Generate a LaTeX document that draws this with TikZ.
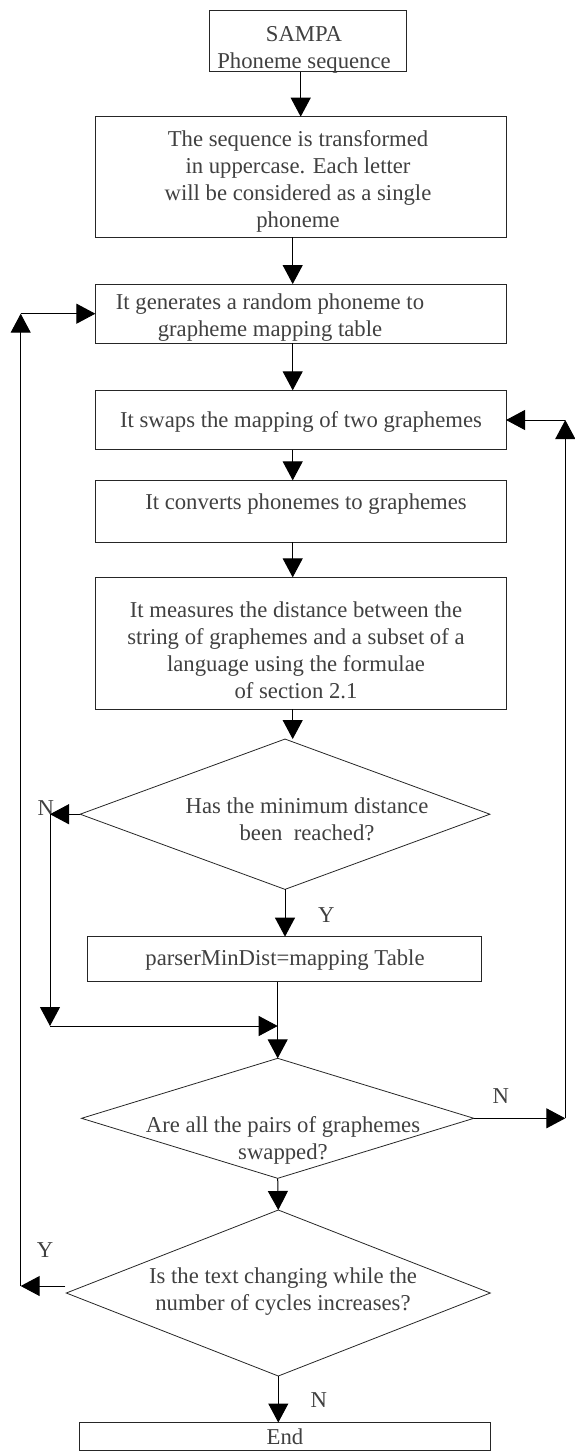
\documentclass[tikz,border=0pt]{standalone}
\usepackage{fontspec}
\setmainfont{Liberation Serif}
\usetikzlibrary{shapes.geometric,arrows.meta,calc}
\begin{document}
\begin{tikzpicture}[x=0.5pt,y=-0.5pt,
  font=\fontsize{11.35pt}{13.5pt}\selectfont,
  box/.style={draw=black!85, line width=0.5pt, inner sep=0pt, outer sep=0pt, minimum width=205.35pt},
  decision/.style={diamond, draw=black!85, line width=0.4pt, inner sep=0pt, outer sep=0pt},
  txt/.style={text=black!75, align=center, inner sep=0pt},
  lbl/.style={text=black!75, inner sep=0pt},
  flow/.style={line width=0.5pt, -{Triangle[length=9.5pt,width=10pt]}}]

\useasboundingbox (0,0) rectangle (574,1452);

% process boxes and decisions
\node[box, minimum width=98.5pt, minimum height=30.5pt] (sampa) at (307.5,41.2) {};
\node[box, minimum height=60.3pt]  (b2) at (300.7,177) {};
\node[box, minimum height=29.65pt] (b3) at (300.7,313.7) {};
\node[box, minimum height=29.7pt]  (b4) at (300.7,420) {};
\node[box, minimum height=30.85pt] (b5) at (300.7,511.2) {};
\node[box, minimum height=65.85pt] (b6) at (300.7,643.2) {};
\node[decision, minimum width=204.85pt, minimum height=75.15pt] (d1) at (285,814.2) {};
\node[box, minimum width=197pt, minimum height=22.65pt] (b7) at (284.3,959.3) {};
\node[decision, minimum width=196.15pt, minimum height=60pt] (d2) at (277.7,1118.3) {};
\node[decision, minimum width=212pt, minimum height=83pt] (d3) at (278.3,1293) {};
\node[box, minimum width=205.4pt, minimum height=13.75pt] (end) at (284.9,1436.25) {};

% branch labels
\node[lbl] (n1) at (45.8,808) {N};
\node[lbl] (y1) at (326.2,915.2) {Y};
\node[lbl] (n2) at (500.9,1096.3) {N};
\node[lbl] (y3) at (45,1250.2) {Y};
\node[lbl] (n3) at (318.7,1400.3) {N};

% box texts
\node[txt] (t1) at (304,50) {SAMPA\\Phoneme sequence};
\node[txt] (t2) at (298,181) {The sequence is transformed\\in uppercase. Each letter\\will be considered as a single\\phoneme};
\node[txt] (t3) at (270,318) {It generates a random phoneme to\\grapheme mapping table};
\node[txt] (t4) at (301,421.5) {It swaps the mapping of two graphemes};
\node[txt] (t5) at (306,504) {It converts phonemes to graphemes};
\node[txt] (t6) at (296,650) {It measures the distance between the\\string of graphemes and a subset of a\\language using the formulae\\of section 2.1};
\node[txt] (t7) at (307,819.5) {Has the minimum distance\\been~ reached?};
\node[txt] (t8) at (285,960) {parserMinDist=mapping Table};
\node[txt] (t9) at (283,1140) {Are all the pairs of graphemes\\swapped?};
\node[txt] (t10) at (283,1292) {Is the text changing while the\\number of cycles increases?};
\node[txt] (t11) at (285,1437) {End};

% routing points
\coordinate (a2) at ($(b2.south)+(-8,0)$);
\coordinate (a3) at ($(b3.south)+(-8,0)$);
\coordinate (a4) at ($(b4.south)+(-8,0)$);
\coordinate (a5) at ($(b5.south)+(-8,0)$);
\coordinate (a6) at ($(b6.south)+(-8,0)$);
\coordinate (c1) at (50,814.2);
\coordinate (c2) at (50,1026);
\coordinate (m)  at (277.7,1026);
\coordinate (r1) at (565.3,1118.3);
\coordinate (r2) at (565.3,420);
\coordinate (l0) at ($(d3.west)+(-1,-7)$);
\coordinate (l1) at (20.7,1286);
\coordinate (l2) at (20.7,313.7);

% main flow
\draw[flow] (sampa.south -| b2.north) -- (b2.north);
\draw[flow] (a2) -- (a2 |- b3.north);
\draw[flow] (a3) -- (a3 |- b4.north);
\draw[flow] (a4) -- (a4 |- b5.north);
\draw[flow] (a5) -- (a5 |- b6.north);
\draw[flow] (a6) -- (a6 |- d1.north);
\draw[flow] (d1.south) -- (d1.south |- b7.north);
\draw[flow] (b7.south -| d2.north) -- (d2.north);
\draw[flow] (d2.south) -- (d3.north);
\draw[flow] (d3.south) -- (d3.south |- end.north);

% "N" branch of the minimum-distance test
\draw[flow] (d1.west) -- (c1);
\draw[flow] (c1) -- (c2);
\draw[flow] (c2) -- (m);

% swap loop
\draw[flow] (d2.east) -- (r1);
\draw[flow] (r1) -- (r2);
\draw[flow] (r2) -- (b4.east);

% restart loop
\draw[flow] (l0) -- (l1);
\draw[flow] (l1) -- (l2);
\draw[flow] (l2) -- (b3.west);
\end{tikzpicture}
\end{document}
